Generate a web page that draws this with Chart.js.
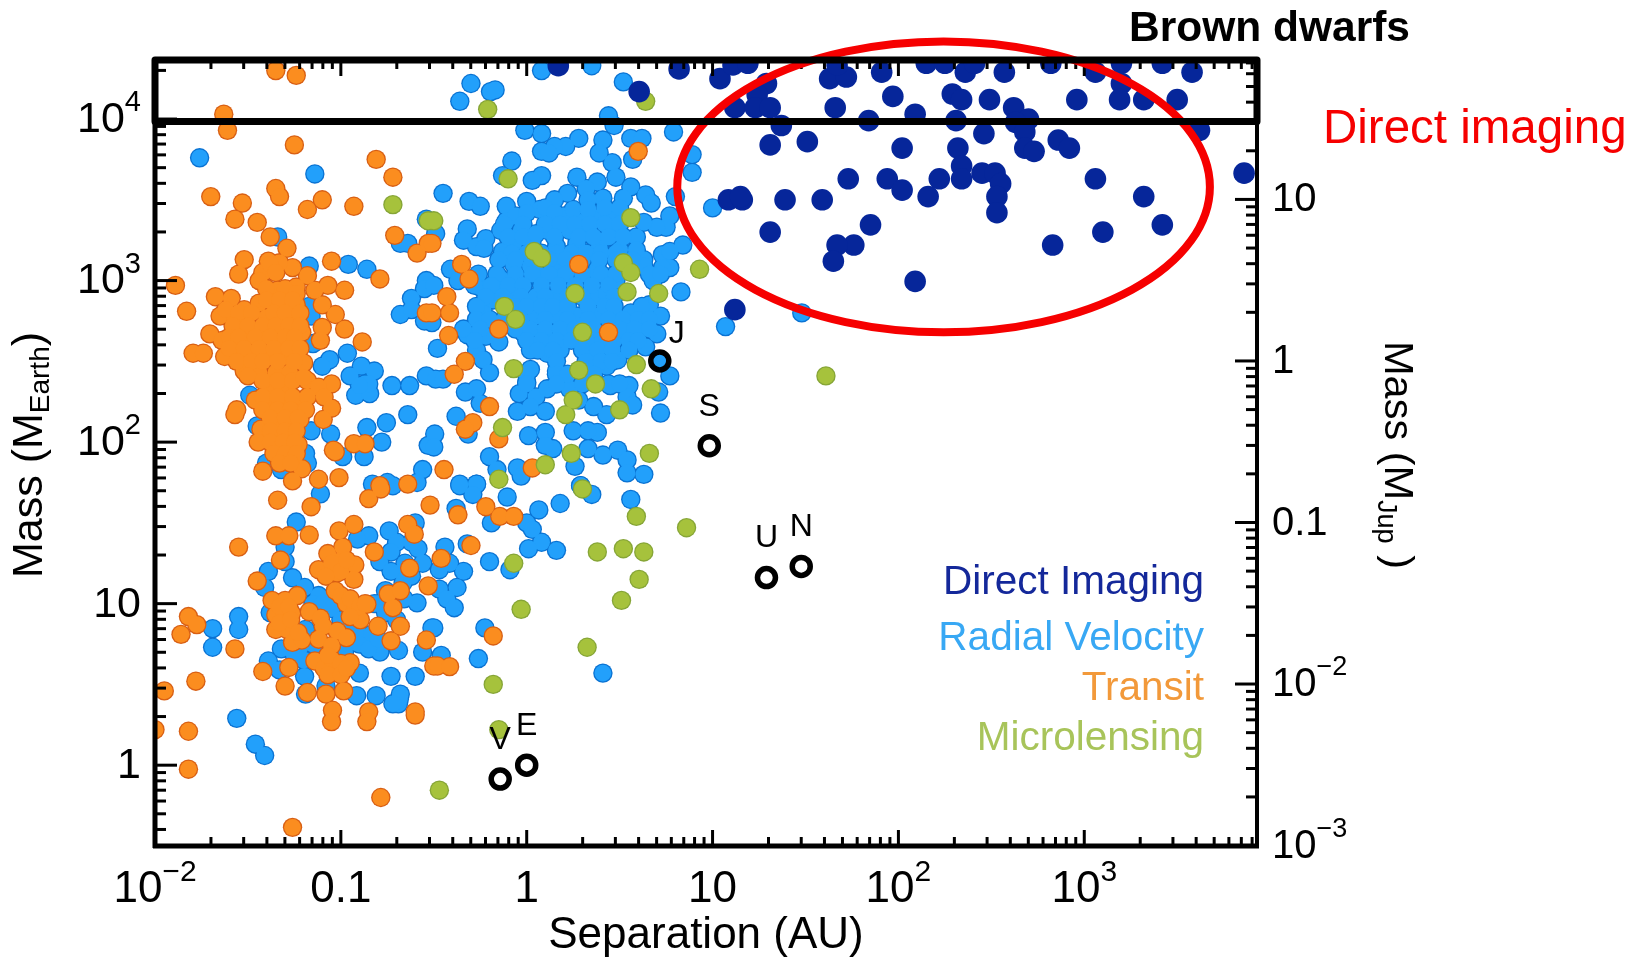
<!DOCTYPE html>
<html>
<head>
<meta charset="utf-8">
<title>Exoplanets by detection method</title>
<script src="https://cdn.jsdelivr.net/npm/chart.js@4/dist/chart.umd.min.js"></script>
<style>
    html, body { margin: 0; padding: 0; background: #fff; overflow: hidden; }
    canvas { display: block; }
</style>
</head>
<body>
<canvas id="massChart" width="1633" height="958"></canvas>
<script>
// Points, each one is [log10 separation in AU, log10 mass in Earth masses]
const directImaging = [
    [.17,4.33],[.605,4.17],[.82,4.31],[1.04,4.25],[1.11,4.335],[1.19,4.345],[1.29,4.22],[1.24,4.15],[1.12,4.07],[1.23,4.07],
    [1.31,4.07],[1.37,3.96],[1.31,3.84],[1.51,3.86],[1.66,4.07],[1.63,4.25],[1.72,4.26],[1.67,4.335],[1.91,4.29],[1.97,4.14],
    [1.84,3.99],[2.09,4.03],[2.02,3.82],[2.29,4.155],[2.34,4.12],[2.49,4.12],[2.31,3.99],[2.46,3.91],[2.36,4.29],[2.15,4.345],
    [2.25,4.345],[2.41,4.345],[2.57,4.29],[2.62,4.07],[2.70,4.0],[2.63,3.98],[2.68,3.92],[2.68,3.82],[2.73,3.80],[2.86,3.87],
    [2.92,3.82],[2.96,4.12],[2.82,4.345],[3.06,4.29],[3.20,4.22],[3.19,4.12],[3.32,4.12],[3.50,4.12],[3.20,4.345],[3.42,4.345],
    [3.58,4.29],[3.62,3.93],[3.86,3.665],[2.32,3.82],[2.34,3.71],[2.34,3.63],[2.45,3.665],[2.52,3.665],[2.55,3.60],[2.53,3.52],
    [2.53,3.42],[2.22,3.63],[2.16,3.52],[1.94,3.63],[2.02,3.56],[1.73,3.63],[1.59,3.50],[1.39,3.50],[1.085,3.50],[1.16,3.50],
    [1.15,3.52],[1.31,3.30],[1.85,3.345],[1.76,3.22],[1.67,3.22],[1.65,3.12],[2.09,2.995],[2.83,3.22],[3.10,3.30],[3.42,3.345],
    [3.06,3.63],[3.32,3.52],[1.12,2.82]
];
const radialVelocity = [
    [-1.76,3.76],[-1.14,3.66],[-1.34,3.27],[-1.17,3.09],[-.96,3.10],[-.86,3.07],[-.68,3.23],[-.64,3.23],[-.54,3.38],[-.54,3.00],
    [-1.16,2.78],[-1.17,2.84],[-1.15,2.61],[-1.06,2.51],[-1.10,2.47],[-.965,2.55],[-.89,2.47],[-.82,2.44],[-.95,2.41],[-.87,2.36],
    [-.92,2.29],[-.845,2.30],[-.725,2.35],[-.63,2.35],[-.64,2.17],[-.755,2.12],[-.86,2.09],[-.78,2.0],[-.875,1.91],[-.99,1.91],
    [-1.16,2.07],[-1.055,2.05],[-1.45,2.10],[-1.49,2.29],[-1.19,1.93],[-1.18,1.87],[-1.40,1.87],[-1.32,1.83],[-.62,2.89],[-.68,2.79],
    [-.62,2.82],[-.55,2.95],[-.55,2.75],[-.53,1.98],[-.56,1.83],[-.59,1.75],[-.83,1.74],[-.75,1.75],[-.54,2.41],[-.85,2.36],[-.9,2.35],
    [.08,4.30],[.35,4.33],[-.30,4.22],[-.36,4.11],[-.195,4.17],[-.17,4.18],[.52,4.23],[.44,4.02],[.47,3.96],[-.01,3.93],[.08,3.91],
    [.28,3.88],[.21,3.83],[.15,3.83],[.08,3.80],[.12,3.79],[.41,3.87],[.39,3.79],[.56,3.88],[.62,3.88],[.57,3.75],[.79,3.92],
    [.89,3.78],[.89,3.67],[.80,3.52],[1.00,3.45],[.46,3.73],[.48,3.64],[-.08,3.74],[-.13,3.65],[.08,3.65],[.03,3.62],[-.45,3.54],
    [-.31,3.49],[-.25,3.46],[.27,3.64],[.38,3.61],[.32,3.57],[.41,3.51],[.33,3.50],[.22,3.54],[.15,3.50],[0,3.49],[-.11,3.46],
    [.56,3.58],[.52,3.51],[.64,3.53],[.67,3.48],[.77,3.40],[.75,3.33],[.70,3.33],[.63,3.36],[.59,3.27],[.84,3.22],[.73,3.16],
    [.77,3.08],[.77,3.18],[.63,3.13],[.59,3.19],[-.11,3.37],[-.06,3.40],[.07,3.44],[.20,3.40],[.29,3.36],[.39,3.39],[.47,3.41],
    [-.14,3.31],[-.03,3.31],[.11,3.31],[.23,3.31],[.34,3.29],[.46,3.29],[.50,3.19],[.39,3.21],[.27,3.23],[.16,3.21],[-.07,3.23],
    [.03,3.25],[-.13,3.18],[-.32,3.32],[-.34,3.25],[-.27,3.21],[-.22,3.26],[-.23,3.20],[-.07,3.10],[.02,3.09],[.14,3.09],[-.14,3.01],
    [.23,3.09],[.38,3.07],[-.41,3.07],[-.36,3.03],[-.49,3.29],
    [-.37,3.0],[-.25,2.96],[-.145,2.985],[-.05,2.95],[.05,3.05],[.16,3.05],[.38,3.05],[.48,3.0],[.63,3.09],[.73,3.08],[.68,3.0],
    [.83,2.93],[.66,2.85],[.72,2.78],[-.235,2.82],[-.18,2.88],[-.07,2.90],[.05,2.90],[.16,2.90],[.38,2.90],[.43,2.92],[.56,2.80],
    [.48,2.78],[.05,2.78],[.16,2.78],[.27,2.78],[.38,2.78],[.61,2.72],[.70,2.67],[.54,2.66],[-.32,2.665],[-.22,2.655],[-.15,2.62],
    [-.02,2.68],[.09,2.655],[.20,2.655],[.38,2.63],[.47,2.63],[.64,2.59],[-.27,2.57],[.02,2.57],[.11,2.55],[.18,2.57],[.34,2.53],
    [.49,2.51],[-.48,2.58],[-.235,2.51],[-.20,2.43],[-.49,2.39],[-.45,2.39],[.16,2.44],[.36,2.45],[.43,2.47],[.02,2.45],[0,2.37],
    [-.04,2.30],[.05,2.28],[-.05,2.19],[.10,2.19],[.02,2.22],[.11,2.33],[.23,2.33],[.45,2.35],[.55,2.35],[.54,2.28],[.57,2.23],
    [.43,2.17],[.36,2.22],[.28,2.26],[.77,2.41],[.71,2.31],[.72,2.18],[-.33,2.31],[-.27,2.33],[-.25,2.24],[-.38,2.16],[-.495,2.05],
    [-.50,1.97],[-.315,2.05],[-.20,1.91],[-.16,1.83],[-.05,1.84],[-.03,1.79],[-.36,1.74],[-.27,1.74],[.01,2.04],[.10,2.06],[.14,1.96],
    [.10,1.98],[.25,2.07],[.38,2.06],[.33,2.07],[.33,1.96],[.41,1.92],[.49,1.95],[.54,1.89],[.54,1.81],[.63,1.80],[.26,1.85],[.29,1.73],
    [-.50,2.97],[-.51,2.74],[1.48,2.80],[1.07,2.715],[.715,2.50],
    // dense part of the giant planet cloud
    [0,3.42],[.10,3.45],[.15,3.42],[.25,3.44],[.33,3.44],[.42,3.45],[.50,3.45],
    [-.12,3.35],[-.02,3.35],[.10,3.35],[.18,3.35],[.26,3.35],[.34,3.35],[.42,3.35],[.50,3.35],
    [-.1,3.27],[-.02,3.27],[.05,3.29],[.15,3.27],[.28,3.27],[.36,3.27],[.44,3.27],[.52,3.27],
    [-.08,3.17],[0,3.17],[.08,3.17],[.16,3.17],[.24,3.17],[.32,3.17],[.40,3.17],[.48,3.17],
    [-.15,3.13],[-.06,3.13],[.03,3.13],[.12,3.13],[.21,3.13],[.30,3.13],[.39,3.13],[.48,3.13],[.57,3.13],
    [-.26,3.04],[-.16,3.04],[-.06,3.04],[.03,3.04],[.12,3.04],[.21,3.04],[.30,3.04],[.40,3.04],[.48,3.04],[.66,3.04],[.72,3.04],
    [-.28,2.97],[-.19,2.97],[-.10,2.97],[-.02,2.97],[.08,2.97],[.17,2.97],[.26,2.97],[.35,2.97],[.44,2.97],
    [-.22,2.90],[-.13,2.90],[-.03,2.90],[.10,2.90],[.22,2.90],[.30,2.90],[.47,2.90],
    [-.27,2.84],[-.06,2.84],[0,2.84],[.08,2.84],[.14,2.84],[.22,2.84],[.33,2.84],[.42,2.84],[.47,2.84],[.62,2.84],
    [-.27,2.76],[-.20,2.76],[-.12,2.76],[-.03,2.76],[.10,2.76],[.22,2.76],[.33,2.76],[.44,2.76],[.52,2.76],[.60,2.76],[.66,2.76],
    [-.34,2.70],[-.25,2.70],[-.06,2.70],[.02,2.70],[.10,2.70],[.18,2.70],[.26,2.70],[.36,2.70],[.50,2.70],[.58,2.70],[.66,2.70],
    [-.28,2.63],[0,2.63],[.08,2.63],[.16,2.63],[.24,2.63],[.32,2.63],[.44,2.63],[.55,2.63],[.60,2.63],
    [.06,2.57],[.14,2.57],[.30,2.57],[.38,2.57],[.46,2.57],[.55,2.57],[.16,2.50],[.32,2.50],[.40,2.50],[.46,2.50],
    [0,2.42],[.16,2.42],[.22,2.42],[.30,2.42],[.36,2.42],[.0,2.36],[.16,2.36],[.30,2.36],[.44,2.36],[.50,2.36],
    [-1.11,1.68],[-.82,1.73],[-.72,1.73],[-1.24,1.505],[-.85,1.42],[-.91,1.40],[-.74,1.45],[-.60,1.50],[-.70,1.38],[-.585,1.34],
    [-.79,1.26],[-1.30,1.35],[-1.30,1.26],[-1.39,1.20],[-1.41,1.10],[-1.26,1.16],[-1.195,1.10],[-1.12,1.05],[-1.07,1.03],[-1.55,.92],
    [-1.55,.84],[-1.69,.845],[-1.69,.73],[-1.38,.945],[-.96,.88],[-.89,.80],[-.835,.81],[-.925,.76],[-1.19,.84],[-1.22,.73],[-1.32,.72],
    [-1.39,.645],[-1.33,.59],[-1.195,.55],[-1.08,.49],[-.90,.57],[-1.19,.44],[-.915,.43],[-.81,.43],[-.73,.55],[-.60,.55],[-.68,.44],
    [-.69,.38],[-.79,.70],[-.69,.71],[-.56,.70],[-.59,1.005],[-.76,.945],[-.76,1.08],[-.665,1.13],[-.51,.85],[-.655,1.25],
    [-1.15,1.0],[-1.10,1.0],[-1.05,.97],[-1.0,.9],[-.95,.85],[-.9,.75],[-.85,.72],[-.8,.78],[-1.15,.75],[-1.2,.65],[-1.25,.68],[-1.1,.72],
    [-.98,.70],[-.8,1.0],[-.74,1.0],[-.66,1.03],[-.67,1.2],[-.73,1.2],[-.62,1.38],[-.73,1.32],[-.56,1.25],[-.62,1.17],[-.82,1.0],[-.7,.9],
    [-.36,1.73],[-.27,1.74],[-.29,1.676],[-.105,1.66],[-.38,1.59],[-.19,1.50],[.065,1.58],[.18,1.62],[0,1.50],[.03,1.46],[.08,1.38],
    [.01,1.34],[.16,1.33],[.29,1.73],[.35,1.676],[.56,1.645],[-.44,1.35],[-.32,1.37],[-.20,1.26],[-.09,1.21],[-.34,1.20],[-.415,1.25],
    [-.47,1.21],[-.375,1.10],[-.47,1.09],[-.43,1.03],[-.39,.975],[-.50,.85],[-.225,.85],[-.46,.68],[-.26,.66],[.41,.57],
    [-1.56,.29],[-1.46,.13],[-1.41,.06],[-.685,.41],[-.72,.38]
];
const transit = [
    [-1.35,4.30],[-1.24,4.27],[-1.63,4.03],[-1.61,3.93],[-1.25,3.84],[-.81,3.75],[-.72,3.64],[-1.70,3.52],[-1.53,3.48],[-1.57,3.38],
    [-1.45,3.36],[-1.35,3.57],[-1.33,3.52],[-1.10,3.50],[-1.18,3.44],[-.93,3.46],[-1.38,3.27],[-1.29,3.20],[-1.52,3.13],[-1.39,3.12],
    [-1.05,3.12],[-.71,3.28],[-.59,3.17],[-.53,3.23],[-1.55,3.04],[-1.26,3.08],[-1.33,3.11],[-.79,3.01],[-1.18,3.03],[-1.42,3.05],
    [-1.89,2.97],[-1.83,2.81],[-1.44,3.00],[-1.38,3.10],[-1.35,3.05],[-1.24,2.96],[-1.14,2.94],[-1.07,2.97],[-.98,2.94],[-1.10,2.85],
    [-1.03,2.79],[-.98,2.70],[-.885,2.62],[-1.10,2.71],[-1.11,2.63],[-1.675,2.90],[-1.59,2.89],[-1.52,2.82],[-1.65,2.78],[-1.57,2.76],
    [-1.705,2.67],[-1.64,2.63],[-1.795,2.55],[-1.74,2.55],[-1.625,2.53],[-1.44,2.86],[-1.34,2.94],[-1.33,2.84],[-1.24,2.85],[-1.40,2.77],
    [-1.28,2.76],[-1.21,2.68],[-1.51,2.66],[-1.42,2.66],[-1.31,2.63],[-1.53,2.53],[-1.45,2.55],[-1.38,2.53],[-1.29,2.53],[-1.20,2.49],
    [-1.52,2.44],[-1.44,2.43],[-1.35,2.43],[-1.275,2.43],[-1.18,2.38],[-1.05,2.36],[-1.12,2.34],[-1.09,2.28],[-1.05,2.21],[-1.095,2.14],
    [-1.46,2.26],[-1.38,2.33],[-1.29,2.33],[-1.20,2.25],[-1.365,2.22],[-1.275,2.22],[-1.56,2.20],[-1.57,2.17],[-1.22,2.14],[-1.43,2.08],
    [-1.445,2.00],[-1.35,2.12],[-1.28,2.12],[-1.365,2.03],[-1.23,1.985],[-1.33,1.91],[-1.25,1.91],[-1.30,2.0],[-1.42,1.82],[-1.21,1.835],
    [-1.26,1.76],[-1.12,1.77],[-1.01,1.78],[-1.04,1.95],[-1.03,1.94],[-.93,1.99],[-.87,1.99],[-.79,1.73],[-.64,1.74],[-.54,2.80],
    // dense part of the hot Jupiter cloud
    [-1.40,2.95],[-1.30,2.95],[-1.24,2.92],[-1.40,2.88],[-1.33,2.88],[-1.26,2.88],[-1.62,2.82],[-1.55,2.80],[-1.48,2.80],[-1.36,2.80],[-1.30,2.80],[-1.22,2.80],
    [-1.58,2.72],[-1.50,2.72],[-1.42,2.72],[-1.35,2.72],[-1.28,2.72],[-1.22,2.72],[-1.60,2.65],[-1.55,2.65],[-1.46,2.65],[-1.38,2.65],[-1.30,2.65],[-1.25,2.65],
    [-1.60,2.58],[-1.52,2.58],[-1.44,2.58],[-1.36,2.58],[-1.28,2.58],[-1.22,2.58],[-1.56,2.50],[-1.48,2.50],[-1.42,2.50],[-1.34,2.50],[-1.25,2.50],
    [-1.50,2.41],[-1.42,2.38],[-1.34,2.38],[-1.26,2.38],[-1.20,2.40],[-1.42,2.28],[-1.34,2.28],[-1.26,2.28],[-1.18,2.28],[-1.42,2.20],[-1.34,2.20],[-1.27,2.20],[-1.19,2.20],
    [-1.38,2.15],[-1.30,2.15],[-1.23,2.15],[-1.38,2.07],[-1.30,2.07],[-1.24,2.07],[-1.38,2.00],[-1.31,2.00],[-1.25,2.00],[-1.36,1.93],[-1.30,1.93],[-1.24,1.93],[-1.33,1.87],[-1.27,1.87],
    [.60,3.80],[.28,3.10],[-.35,3.10],[-.31,3.01],[-.51,3.23],[-.43,2.90],[-.415,2.80],[-.51,2.80],[-.42,2.66],[-.15,2.70],[.44,2.68],
    [-.33,2.50],[-.39,2.42],[-.20,2.22],[-.29,2.12],[-.33,2.08],[-.15,2.02],[-.445,1.83],[.03,1.84],
    [-1.34,1.64],[-1.16,1.60],[-.85,1.65],[-.785,1.71],[-.52,1.61],[-.93,1.49],[-1.01,1.45],[-1.35,1.42],[-1.28,1.42],[-1.17,1.425],
    [-1.55,1.35],[-1.325,1.27],[-1.45,1.14],[-1.07,1.31],[-.99,1.35],[-.82,1.32],[-.64,1.49],[-.605,1.43],[-.63,1.22],[-1.12,1.21],
    [-1.02,1.19],[-.925,1.24],[-.93,1.15],[-.996,1.27],[-1.37,1.02],[-1.30,1.02],[-1.235,1.05],[-1.03,1.08],[-.97,1.00],[-.86,.996],
    [-.925,.955],[-.895,.90],[-.745,1.06],[-.68,1.08],[-.72,.975],[-.53,1.11],[-1.82,.92],[-1.775,.87],[-1.86,.81],[-1.57,.72],
    [-1.78,.52],[-1.95,.46],[-1.35,.93],[-1.265,.94],[-1.17,.95],[-1.11,.91],[-1.095,.86],[-1.35,.84],[-1.29,.84],[-1.26,.76],[-1.21,.775],
    [-1.12,.78],[-1.02,.83],[-.97,.79],[-.80,.86],[-.68,.86],[-.73,.77],[-.54,.775],[-.50,.614],[-1.05,.74],[-1.14,.645],[-1.09,.60],
    [-1.05,.655],[-.95,.635],[-1.03,.58],[-1.28,.605],[-1.42,.58],[-1.30,.49],[-1.18,.45],[-1.08,.44],[-.985,.46],[-1.045,.34],[-.85,.33],
    [-.60,.33],[-1.05,.27],[-.86,.27],[-.60,.31],[-1.82,.21],[-2.00,.22],[-1.82,-.025],[-.785,-.20],[-1.26,-.385],
    [-1.05,1.25],[-1.0,1.20],[-.97,1.27],[-1.08,1.17],[-1.0,1.05],[-.95,1.03],[-.9,.98],[-.87,1.0],[-.95,.92],
    [-1.07,.68],[-1.0,.63],[-1.07,.56],[-1.0,.56],[-.97,.6],[-1.33,.98],[-1.28,.98],[-1.33,.88],[-1.27,.90],[-1.23,.82],
    [-.37,1.55],[-.22,1.60],[-.145,1.54],[-.07,1.54],[-.30,1.36],[-.46,1.28],[-.18,.80],[-.48,.614],[-.415,.61]
];
const microlensing = [
    [-.72,3.47],[-.53,3.37],[-.21,4.06],[.64,4.11],[-.10,3.63],[.56,3.39],[.04,3.18],[.08,3.14],[.52,3.11],[.56,3.05],[.93,3.07],[-.50,3.37],
    [.26,2.92],[-.12,2.84],[-.06,2.76],[.54,2.93],[.71,2.92],[.30,2.68],[.59,2.48],[-.07,2.455],[.28,2.445],[.37,2.36],[.67,2.33],[.25,2.26],
    [.21,2.17],[.50,2.20],[-.13,2.09],[.24,1.93],[.66,1.93],[.10,1.86],[-.15,1.77],[.30,1.71],[.59,1.54],[.86,1.47],[.38,1.32],[.52,1.34],
    [.63,1.32],[.605,1.15],[.51,1.02],[-.07,1.25],[-.03,.965],[.325,.73],[-.18,.50],[-.15,.22],[-.47,-.155],[1.61,2.41]
];
const planetNames = ['J', 'S', 'U', 'N', 'E', 'V'];
const planetSep = [5.2, 9.6, 19.5, 30, 1, 0.72];
const planetMass = [318, 95, 14.5, 17, 1, 0.82];

const sepTicks = [0.01, 0.1, 1, 10, 100, 1000];
const sepLabels = [['10', '\u22122'], ['0.1'], ['1'], ['10'], ['10', '2'], ['10', '3']];
const massTicks = [1, 10, 100, 1000, 10000];
const massLabels = [['1'], ['10'], ['10', '2'], ['10', '3'], ['10', '4']];
const jupTicks = [0.001, 0.01, 0.1, 1, 10];
const jupLabels = [['10', '\u22123'], ['10', '\u22122'], ['0.1'], ['1'], ['10']];
const legendNames = ['Direct Imaging', 'Radial Velocity', 'Transit', 'Microlensing'];
const legendColors = ['#14289a', '#38a8f4', '#f2993a', '#a8c45a'];

const sepMin = 0.01, sepMax = 8500;
const massMin = 0.316, massMax = 23200;
const earthPerJup = 318;
const fontName = '"Liberation Sans", Arial, sans-serif';

// Annotations drawn on the figure, also in data units
const boxMassBottom = 10 ** 3.985;
const ellipseSep = [10 ** 0.81, 10 ** 3.676];
const ellipseMass = [10 ** 2.68, 10 ** 4.48];

function toPoints(list) {
    return list.map(p => ({ x: 10 ** p[0], y: 10 ** p[1] }));
}

// Draws "10" with a raised exponent
function drawPower(ctx, label, x, y, align, size) {
    const base = label[0], exp = label[1];
    const expSize = Math.round(size * 0.68);
    ctx.font = size + 'px ' + fontName;
    const baseW = ctx.measureText(base).width;
    ctx.font = expSize + 'px ' + fontName;
    const expW = exp ? ctx.measureText(exp).width : 0;
    let left = x;
    if (align === 'right') left = x - baseW - expW;
    if (align === 'center') left = x - (baseW + expW) / 2;
    ctx.textAlign = 'left';
    ctx.textBaseline = 'middle';
    ctx.font = size + 'px ' + fontName;
    ctx.fillText(base, left, y);
    if (exp) {
        ctx.font = expSize + 'px ' + fontName;
        ctx.fillText(exp, left + baseW, y - 17);
    }
}

// Text with one subscript part, centred on the current origin
function drawSubscript(ctx, before, sub, after, size) {
    const subSize = Math.round(size * 0.65);
    ctx.font = size + 'px ' + fontName;
    const w1 = ctx.measureText(before).width;
    const w3 = ctx.measureText(after).width;
    ctx.font = subSize + 'px ' + fontName;
    const w2 = ctx.measureText(sub).width;
    let left = -(w1 + w2 + w3) / 2;
    ctx.textAlign = 'left';
    ctx.textBaseline = 'middle';
    ctx.font = size + 'px ' + fontName;
    ctx.fillText(before, left, 0);
    ctx.fillText(after, left + w1 + w2, 0);
    ctx.font = subSize + 'px ' + fontName;
    ctx.fillText(sub, left + w1, 11);
}

function minorValues(min, max) {
    const out = [];
    for (let d = Math.floor(Math.log10(min)); d <= Math.ceil(Math.log10(max)); d++) {
        for (let m = 2; m < 10; m++) {
            const v = m * 10 ** d;
            if (v > min && v < max) out.push(v);
        }
    }
    return out;
}

const figurePlugin = {
    id: 'figure',
    afterDatasetsDraw(chart) {
        const ctx = chart.ctx;
        const { x, y, y2 } = chart.scales;
        const area = chart.chartArea;
        ctx.save();
        ctx.fillStyle = '#000';
        ctx.strokeStyle = '#000';

        // tick marks point into the plot
        ctx.lineWidth = 3;
        function tick(x1, y1, x2, y2b) {
            ctx.beginPath();
            ctx.moveTo(x1, y1);
            ctx.lineTo(x2, y2b);
            ctx.stroke();
        }
        minorValues(sepMin, sepMax).forEach(v => {
            const px = x.getPixelForValue(v);
            tick(px, area.bottom, px, area.bottom - 9);
            tick(px, area.top, px, area.top + 9);
        });
        sepTicks.forEach(v => {
            const px = x.getPixelForValue(v);
            tick(px, area.bottom, px, area.bottom - 16);
            tick(px, area.top, px, area.top + 16);
        });
        minorValues(massMin, massMax).forEach(v => {
            const py = y.getPixelForValue(v);
            tick(area.left, py, area.left + 11, py);
        });
        massTicks.forEach(v => {
            const py = y.getPixelForValue(v);
            tick(area.left, py, area.left + 22, py);
        });
        minorValues(y2.min, y2.max).forEach(v => {
            const py = y2.getPixelForValue(v);
            tick(area.right, py, area.right - 11, py);
        });
        jupTicks.forEach(v => {
            const py = y2.getPixelForValue(v);
            tick(area.right, py, area.right - 22, py);
        });

        // frame
        ctx.lineWidth = 5;
        tick(area.left, area.top, area.left, area.bottom + 2);
        tick(area.left - 2, area.bottom, area.right + 2, area.bottom);
        ctx.lineWidth = 4;
        tick(area.right, area.top, area.right, area.bottom + 2);

        // tick labels
        sepTicks.forEach((v, i) => drawPower(ctx, sepLabels[i], x.getPixelForValue(v), 890, 'center', 44));
        massTicks.forEach((v, i) => drawPower(ctx, massLabels[i], 141, y.getPixelForValue(v) + 1, 'right', 43));
        jupTicks.forEach((v, i) => drawPower(ctx, jupLabels[i], 1272, y2.getPixelForValue(v) + 1, 'left', 40));

        // planet letters
        ctx.font = '32px ' + fontName;
        ctx.textAlign = 'center';
        ctx.textBaseline = 'middle';
        const letterShift = { J: [17, -27], S: [0, -39], U: [0, -39], N: [0, -39], E: [0, -39], V: [0, -39] };
        planetNames.forEach((name, i) => {
            const s = letterShift[name];
            ctx.fillText(name, x.getPixelForValue(planetSep[i]) + s[0], y.getPixelForValue(planetMass[i]) + s[1]);
        });

        // axis titles
        ctx.textAlign = 'center';
        ctx.textBaseline = 'middle';
        ctx.font = '44px ' + fontName;
        ctx.fillText('Separation (AU)', (area.left + area.right) / 2, 936);
        ctx.save();
        ctx.translate(30, 455);
        ctx.rotate(-Math.PI / 2);
        drawSubscript(ctx, 'Mass (M', 'Earth', ')', 43);
        ctx.restore();
        ctx.save();
        ctx.translate(1396, 455);
        ctx.rotate(Math.PI / 2);
        drawSubscript(ctx, 'Mass (M', 'Jup', ' )', 41.5);
        ctx.restore();

        // legend
        ctx.font = '40.5px ' + fontName;
        ctx.textAlign = 'right';
        ctx.textBaseline = 'middle';
        const legendY = [583, 639, 689, 739];
        legendNames.forEach((name, i) => {
            ctx.fillStyle = legendColors[i];
            ctx.fillText(name, 1204, legendY[i]);
        });

        // red ellipse around the direct imaging planets
        const ex1 = x.getPixelForValue(ellipseSep[0]), ex2 = x.getPixelForValue(ellipseSep[1]);
        const ey1 = y.getPixelForValue(ellipseMass[1]), ey2 = y.getPixelForValue(ellipseMass[0]);
        ctx.strokeStyle = '#f60000';
        ctx.lineWidth = 8;
        ctx.beginPath();
        ctx.ellipse((ex1 + ex2) / 2, (ey1 + ey2) / 2, (ex2 - ex1) / 2, (ey2 - ey1) / 2, 0, 0, Math.PI * 2);
        ctx.stroke();

        // brown dwarf box
        ctx.strokeStyle = '#000';
        ctx.lineWidth = 7;
        ctx.lineJoin = 'round';
        ctx.strokeRect(area.left, area.top, area.right - area.left, y.getPixelForValue(boxMassBottom) - area.top);

        ctx.fillStyle = '#000';
        ctx.font = 'bold 42.5px ' + fontName;
        ctx.textAlign = 'left';
        ctx.fillText('Brown dwarfs', 1129, 29);
        ctx.fillStyle = '#f60000';
        ctx.font = '47.5px ' + fontName;
        ctx.fillText('Direct imaging', 1323, 130);
        ctx.restore();
    }
};

function pointLayer(label, list, color, radius) {
    return { label: label, data: toPoints(list), pointBackgroundColor: color, pointBorderWidth: 0, pointRadius: radius };
}

// The first dataset is painted last. Each method gets a dark disc under its fill,
// so clumps of points merge into one blob with only an outer edge, as in the figure.
const canvas = document.getElementById('massChart');
new Chart(canvas.getContext('2d'), {
    type: 'scatter',
    data: {
        datasets: [
            {
                label: 'Solar System',
                data: planetSep.map((s, i) => ({ x: s, y: planetMass[i] })),
                pointBackgroundColor: 'rgba(0,0,0,0)',
                pointBorderColor: '#000',
                pointBorderWidth: 5.5,
                pointRadius: 9
            },
            pointLayer('Direct Imaging', directImaging, '#06269a', 10.8),
            pointLayer('Microlensing', microlensing, '#a6c23c', 8.4),
            pointLayer('Microlensing edge', microlensing, '#86a537', 9.7),
            pointLayer('Transit', transit, '#fb8d1f', 8.4),
            pointLayer('Transit edge', transit, '#d85f14', 9.7),
            pointLayer('Radial Velocity', radialVelocity, '#22a0fb', 8.4),
            pointLayer('Radial Velocity edge', radialVelocity, '#0a72d2', 9.7)
        ]
    },
    options: {
        responsive: false,
        animation: false,
        layout: { padding: { left: 155, right: 376, top: 60, bottom: 112 } },
        scales: {
            x: { type: 'logarithmic', display: false, bounds: 'data', min: sepMin, max: sepMax },
            y: { type: 'logarithmic', display: false, bounds: 'data', min: massMin, max: massMax },
            y2: { type: 'logarithmic', display: false, bounds: 'data', position: 'right', min: massMin / earthPerJup, max: massMax / earthPerJup }
        },
        plugins: {
            legend: { display: false },
            tooltip: { enabled: false }
        }
    },
    plugins: [figurePlugin]
});
</script>
</body>
</html>
